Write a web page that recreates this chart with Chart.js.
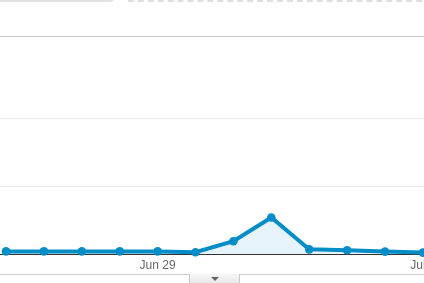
<!DOCTYPE html>
<html>
<head>
<meta charset="utf-8">
<script src="https://cdn.jsdelivr.net/npm/chart.js@4"></script>
<style>
    html, body { margin: 0; padding: 0; background: #fff; }
    #wrap { position: relative; width: 424px; height: 283px; overflow: hidden; }
    #chart { position: absolute; left: 0; top: 0; }
    .tab-left { position: absolute; left: -5px; top: -12px; width: 118px; height: 12px;
        border-bottom: 2px solid #e2e2e2; border-right: 2px solid #e2e2e2; border-bottom-right-radius: 5px; }
    .tab-right { position: absolute; left: 124px; top: -12px; width: 320px; height: 12px;
        border-bottom: 2px dashed #dedede; border-left: 2px dashed #dedede; border-bottom-left-radius: 5px; }
    .bottom-line { position: absolute; left: 0; width: 424px; top: 274px; height: 1px; background: #cfcfcf; }
    .handle { position: absolute; left: 189px; top: 274px; width: 49px; height: 12px;
        border-left: 1px solid #c8c8c8; border-right: 1px solid #c8c8c8;
        background: linear-gradient(#f7f7f7, #e4e4e4); }
    .handle:after { content: ''; position: absolute; left: 21px; top: 3px;
        border-left: 4px solid transparent; border-right: 4px solid transparent; border-top: 4px solid #666; }
</style>
</head>
<body>
<div id="wrap">
    <canvas id="chart" width="460" height="283" style="width:460px;height:283px"></canvas>
    <div class="tab-left"></div>
    <div class="tab-right"></div>
    <div class="bottom-line"></div>
    <div class="handle"></div>
</div>
<script>
// jours affichés
const days = ['Jun 25', 'Jun 26', 'Jun 27', 'Jun 28', 'Jun 29', 'Jun 30',
              'Jul 1', 'Jul 2', 'Jul 3', 'Jul 4', 'Jul 5', 'Jul 6'];
// valeurs
const visits = [4, 4, 4, 4, 4, 2.7, 19, 54, 7, 5.6, 3.7, 2.2];
// étiquettes visibles sur l'axe x
const xTickLabels = ['Jun 29', 'Jul 6'];
// lignes horizontales de la grille
const yGridValues = [0, 100, 200];
const yMax = 322;

const ctx = document.getElementById('chart').getContext('2d');

new Chart(ctx, {
    type: 'line',
    data: {
        datasets: [{
            label: 'Visits',
            data: visits.map((v, i) => ({ x: i, y: v })),
            borderColor: '#058dc7',
            backgroundColor: '#e6f3fa',
            borderWidth: 4,
            fill: 'origin',
            tension: 0,
            pointRadius: 4.3,
            pointBorderWidth: 0,
            pointBackgroundColor: '#058dc7',
            clip: false
        }]
    },
    options: {
        responsive: false,
        animation: false,
        layout: { autoPadding: false, padding: { top: 36, right: 20, bottom: 6.5, left: 0 } },
        plugins: {
            legend: { display: false },
            tooltip: { enabled: false }
        },
        scales: {
            x: {
                type: 'linear',
                min: -0.1583,
                max: 11.451,
                grid: { display: false, drawTicks: false },
                border: { display: false },
                afterBuildTicks: (scale) => {
                    scale.ticks = xTickLabels.map(l => ({ value: days.indexOf(l) }));
                },
                ticks: {
                    padding: 4,
                    maxRotation: 0,
                    autoSkip: false,
                    color: '#666',
                    font: { family: 'Arial, "Liberation Sans", sans-serif', size: 12 },
                    callback: (value) => days[value]
                }
            },
            y: {
                min: 0,
                max: yMax,
                afterFit: (scale) => { scale.width = 0; },
                afterBuildTicks: (scale) => {
                    scale.ticks = yGridValues.concat([yMax]).map(v => ({ value: v }));
                },
                ticks: { display: false },
                border: { display: false },
                grid: {
                    drawTicks: false,
                    lineWidth: 1,
                    color: (c) => {
                        if (c.tick.value === 0) return '#333';
                        if (c.tick.value === yMax) return '#cccccc';
                        return '#ebebeb';
                    }
                }
            }
        }
    }
});
</script>
</body>
</html>
